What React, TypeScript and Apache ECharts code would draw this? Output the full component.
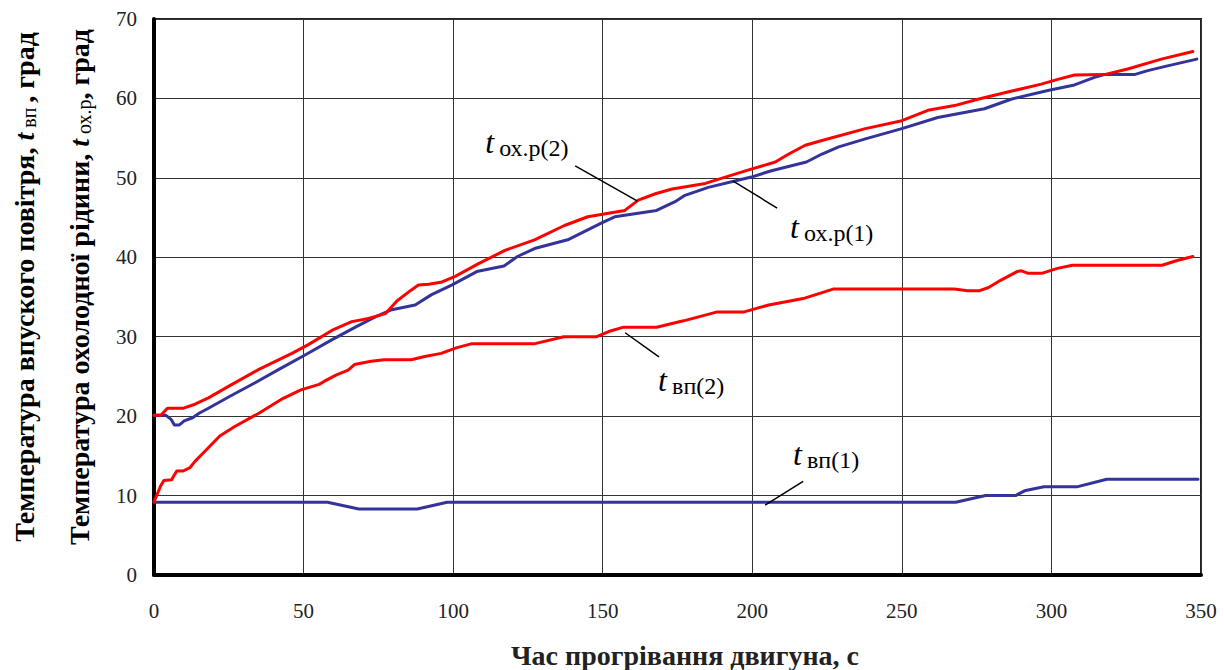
import React, { useEffect, useRef } from "react";
import * as echarts from "echarts";

// x-axis: time (s); y-axis: temperature (deg)
const xTicks = { min: 0, max: 350, interval: 50 };
const yTicks = { min: 0, max: 70, interval: 10 };

// t_вп(1) — intake air, engine 1 (blue, bottom)
const tVp1Time = [0, 58, 68.5, 88, 98, 268, 278, 288, 291, 297.5, 308.5, 318.5, 349];
const tVp1Val = [9.15, 9.15, 8.3, 8.3, 9.15, 9.15, 10, 10, 10.6, 11.1, 11.1, 12.05, 12.05];

// t_вп(2) — intake air, engine 2 (red, lower)
const tVp2Time = [0, 1, 2.2, 3.3, 5.9, 6.5, 7.6, 9.8, 12, 13.7, 17.6, 22, 27, 35.2, 42.5, 49.1, 55.2, 57, 61, 64.9, 67, 72.6, 77, 86, 90.5, 96, 101, 106, 127, 137, 148, 152, 157, 168, 177, 188, 197, 205.5, 217, 227, 267.5, 272, 276, 279, 283, 288.5, 290, 292, 297, 302, 307, 337, 342, 347.3];
const tVp2Val = [9.2, 10.1, 11.2, 11.9, 12.0, 12.4, 13.1, 13.1, 13.5, 14.3, 15.8, 17.5, 18.7, 20.4, 22.1, 23.3, 24.0, 24.4, 25.2, 25.8, 26.5, 26.9, 27.1, 27.1, 27.5, 27.9, 28.6, 29.1, 29.1, 30.0, 30.0, 30.65, 31.2, 31.2, 32.0, 33.1, 33.1, 34.0, 34.8, 36.0, 36.0, 35.8, 35.8, 36.2, 37.1, 38.2, 38.3, 38.0, 38.0, 38.6, 39.0, 39.0, 39.6, 40.1];

// t_ох.р(2) — coolant, engine 2 (red, upper)
const tOx2Time = [0, 2.3, 4.5, 9.9, 13.7, 18.2, 24.9, 34.9, 46.1, 51.6, 60, 66.1, 71.7, 77.3, 81.2, 85.7, 88.4, 91.8, 96.3, 100.7, 108.5, 117.5, 127.2, 137.2, 145, 157.4, 161.9, 167.6, 173.2, 184.3, 191, 198.8, 207.7, 212.2, 217.7, 223.3, 237.8, 250, 258.7, 267.6, 275.4, 285.4, 296.6, 302.1, 307.7, 317.7, 325.5, 336.7, 347.3];
const tOx2Val = [20.1, 20.1, 21.0, 21.0, 21.5, 22.3, 23.75, 25.85, 27.9, 29.0, 30.9, 31.9, 32.3, 32.9, 34.5, 35.8, 36.5, 36.6, 36.9, 37.6, 39.2, 40.9, 42.2, 44.0, 45.1, 45.9, 47.2, 48.0, 48.6, 49.3, 50.1, 51.0, 52.0, 53.0, 54.1, 54.7, 56.2, 57.2, 58.5, 59.1, 59.9, 60.8, 61.8, 62.4, 62.95, 63.0, 63.7, 64.95, 65.9];

// t_ох.р(1) — coolant, engine 1 (blue, upper)
const tOx1Time = [0, 4.0, 5.7, 6.8, 8.5, 10.1, 12.9, 15.2, 18.2, 25.4, 33.8, 41.6, 50.5, 59.4, 67.8, 75.1, 79.5, 87.3, 92.8, 99.5, 107.9, 117, 121.5, 127.2, 138.3, 149.5, 154, 168, 174.2, 177.5, 185.3, 193.1, 199.7, 206.4, 218.1, 223.3, 228.9, 237.8, 250, 262, 277.6, 286.5, 298.8, 307.7, 314.4, 317.7, 327.7, 332.2, 338.8, 348.6];
const tOx1Val = [20.1, 20.1, 19.6, 18.9, 18.9, 19.4, 19.8, 20.4, 21.0, 22.5, 24.2, 25.85, 27.7, 29.6, 31.3, 32.7, 33.4, 34.0, 35.3, 36.5, 38.2, 38.9, 40.1, 41.1, 42.2, 44.3, 45.1, 45.9, 47.0, 47.8, 48.8, 49.5, 50.1, 50.9, 52.0, 53.0, 53.9, 54.9, 56.2, 57.6, 58.7, 59.9, 61.0, 61.7, 62.65, 63.0, 63.0, 63.5, 64.1, 64.95];

// Curve labels: subscript text, label anchor (data coords), leader line start/end (data coords)
const labelSubs = ["ох.р(2)", "ох.р(1)", "вп(2)", "вп(1)"];
const labelAnchors = [[110.7, 54.5], [212.6, 43.8], [168.5, 24.55], [213.6, 15.2]];
const leaderStarts = [[140.8, 51.5], [193.6, 49.6], [157.5, 30.5], [204.3, 8.8]];
const leaderEnds = [[161.5, 47.1], [208.3, 46.2], [168.8, 27.45], [217.0, 11.8]];

const xTitle = "Час прогрівання двигуна, с";
const yTitle1 = ["Температура впуского повітря, ", "t", " вп ", ", град"];
const yTitle2 = ["Температура охолодної рідини, ", "t", " ох.р", ", град"];

const RED = "#ff0000";
const BLUE = "#333399";
const SERIF = "'Liberation Serif', 'Times New Roman', serif";

const zip = (xs: number[], ys: number[]) => xs.map((x, i) => [x, ys[i]]);

export default function App() {
  const ref = useRef<HTMLDivElement>(null);
  useEffect(() => {
    if (!ref.current) return;
    const chart = echarts.init(ref.current, null, { renderer: "svg" });
    const lineSeries = (name: string, data: number[][], color: string) => ({
      name,
      type: "line",
      data,
      symbol: "none",
      smooth: false,
      lineStyle: { color, width: 3, join: "round", cap: "round" },
      z: 5,
    });
    chart.setOption({
      animation: false,
      backgroundColor: "#ffffff",
      grid: {
        left: 154,
        right: 23,
        top: 19,
        bottom: 95,
        show: true,
        borderColor: "#222",
        borderWidth: 2,
        backgroundColor: "transparent",
      },
      xAxis: {
        type: "value",
        min: xTicks.min,
        max: xTicks.max,
        interval: xTicks.interval,
        axisLine: { show: true, lineStyle: { color: "#000", width: 4 } },
        axisTick: { show: false },
        axisLabel: { fontFamily: SERIF, fontSize: 21, color: "#222", margin: 25 },
        splitLine: { show: true, lineStyle: { color: "#333", width: 1 } },
      },
      yAxis: {
        type: "value",
        min: yTicks.min,
        max: yTicks.max,
        interval: yTicks.interval,
        axisLine: { show: true, lineStyle: { color: "#000", width: 4 } },
        axisTick: { show: false },
        axisLabel: { fontFamily: SERIF, fontSize: 21, color: "#222", margin: 17 },
        splitLine: { show: true, lineStyle: { color: "#333", width: 1 } },
      },
      series: [
        lineSeries("tвп(1)", zip(tVp1Time, tVp1Val), BLUE),
        lineSeries("tвп(2)", zip(tVp2Time, tVp2Val), RED),
        lineSeries("tох.р(1)", zip(tOx1Time, tOx1Val), BLUE),
        lineSeries("tох.р(2)", zip(tOx2Time, tOx2Val), RED),
      ],
    });

    const px = (p: number[]) => chart.convertToPixel({ gridIndex: 0 }, p) as number[];
    const graphics: any[] = [];
    labelSubs.forEach((sub, i) => {
      const a = px(labelAnchors[i]);
      const s = px(leaderStarts[i]);
      const e = px(leaderEnds[i]);
      graphics.push({
        type: "line",
        shape: { x1: s[0], y1: s[1], x2: e[0], y2: e[1] },
        style: { stroke: "#000", lineWidth: 1.5 },
        z: 10,
      });
      graphics.push({
        type: "text",
        x: a[0],
        y: a[1],
        style: {
          text: "t",
          font: `italic 32px ${SERIF}`,
          fill: "#000",
          align: "left",
          verticalAlign: "middle",
        },
        z: 10,
      });
      graphics.push({
        type: "text",
        x: a[0] + 14,
        y: a[1] + 6,
        style: {
          text: sub,
          font: `24px ${SERIF}`,
          fill: "#000",
          align: "left",
          verticalAlign: "middle",
        },
        z: 10,
      });
    });

    const titleRich = {
      b: { fontFamily: SERIF, fontWeight: "bold", fontSize: 28, color: "#222", lineHeight: 33, verticalAlign: "bottom" },
      i: { fontFamily: SERIF, fontWeight: "bold", fontStyle: "italic", fontSize: 28, color: "#222", lineHeight: 33, verticalAlign: "bottom" },
      s: { fontFamily: SERIF, fontSize: 20, color: "#222", lineHeight: 26, verticalAlign: "bottom" },
    };
    const mkTitle = (parts: string[], x: number, y: number) => ({
      type: "text",
      x,
      y,
      rotation: Math.PI / 2,
      style: {
        text: `{b|${parts[0]}}{i|${parts[1]}}{s|${parts[2]}}{b|${parts[3]}}`,
        rich: titleRich,
        align: "center",
        verticalAlign: "middle",
      },
    });
    graphics.push(mkTitle(yTitle1, 22, 287));
    graphics.push(mkTitle(yTitle2, 77, 287));
    graphics.push({
      type: "text",
      x: 685,
      y: 655,
      style: {
        text: xTitle,
        font: `bold 28px ${SERIF}`,
        fill: "#222",
        align: "center",
        verticalAlign: "middle",
      },
    });

    chart.setOption({ graphic: graphics });
    return () => chart.dispose();
  }, []);
  return (
    <div
      ref={ref}
      style={{ position: "fixed", left: 0, top: 0, width: 1224, height: 670, background: "#fff" }}
    />
  );
}
